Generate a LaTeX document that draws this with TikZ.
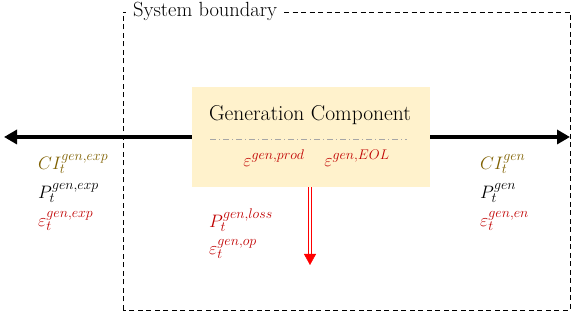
\RequirePackage{fix-cm}
\documentclass[tikz,border=0pt]{standalone}
\usetikzlibrary{arrows.meta}
\DeclareMathSizes{18}{18}{14}{10}
\definecolor{olivec}{HTML}{7F6000}
\definecolor{darkred}{HTML}{C00000}
\definecolor{beige}{HTML}{FFF2CC}
\tikzset{
  lbl/.style={anchor=west, inner sep=0pt, font=\fontsize{18}{20}\selectfont},
  flow/.style={line width=3.4pt, -{Triangle[length=13pt,width=14pt]}},
}
\begin{document}
\begin{tikzpicture}[x=1pt,y=1pt]
\useasboundingbox (0,0) rectangle (573,320);
% system boundary
\draw[dashed, line width=0.9pt, dash pattern=on 5pt off 3.5pt] (123,10) rectangle (570,308);
\node[fill=white, anchor=west, inner xsep=7pt, inner ysep=1pt, font=\fontsize{20.5}{23}\selectfont] (sb) at (126,309) {System boundary};
% component box
\node[fill=beige, minimum width=238pt, minimum height=100pt, inner sep=0pt] (box) at (311,183) {};
\node[font=\fontsize{21.5}{24}\selectfont, inner sep=0pt] (title) at (310,205) {Generation Component};
\coordinate (dl) at (210,181);
\coordinate (dr) at (407,181);
\draw[gray!70, dash pattern=on 6pt off 3pt on 1pt off 3pt, line width=0.8pt] (dl) -- (dr);
\node[text=darkred, font=\fontsize{18}{20}\selectfont, inner sep=0pt] (eprod) at (274,162) {$\varepsilon^{gen,prod}$};
\node[text=darkred, font=\fontsize{18}{20}\selectfont, inner sep=0pt] (eeol) at (357,162) {$\varepsilon^{gen,EOL}$};
% arrows
\coordinate (lend) at (4,183);
\coordinate (rend) at (570,183);
\draw[flow] (box.west |- lend) -- (lend);
\draw[flow] (box.east |- rend) -- (rend);
% loss arrow
\coordinate (lossend) at (310,55);
\coordinate (lossmid) at (310,66);
\draw[red, double=white, double distance=2pt, line width=1.2pt] (box.south -| lossend) -- (lossmid);
\draw[red, line width=0.5pt, -{Triangle[length=11pt,width=12pt]}] (lossmid) -- (lossend);
% left labels
\node[lbl, text=olivec] (lci) at (38,156) {$CI_t^{gen,exp}$};
\node[lbl] (lp) at (38,127) {$P_t^{gen,exp}$};
\node[lbl, text=darkred] (le) at (38,99) {$\varepsilon_t^{gen,exp}$};
% right labels
\node[lbl, text=olivec] (rci) at (480,156) {$CI_t^{gen}$};
\node[lbl] (rp) at (480,127) {$P_t^{gen}$};
\node[lbl, text=darkred] (re) at (480,99) {$\varepsilon_t^{gen,en}$};
% loss labels
\node[lbl, text=darkred] (lossp) at (209,100) {$P_t^{gen,loss}$};
\node[lbl, text=darkred] (losse) at (209,71) {$\varepsilon_t^{gen,op}$};
\end{tikzpicture}
\end{document}
